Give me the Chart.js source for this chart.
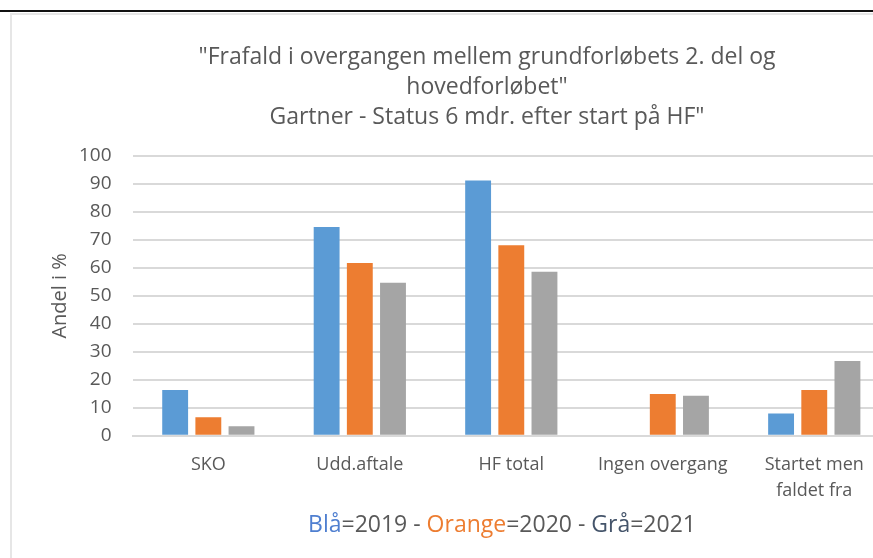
<!DOCTYPE html>
<html>
<head>
<meta charset="utf-8">
<script src="https://cdn.jsdelivr.net/npm/chart.js@4"></script>
<style>
  html, body { margin: 0; padding: 0; background: #fff; }
  #wrap { position: relative; width: 873px; height: 558px; overflow: hidden; background: #fff; }
  #topline { position: absolute; left: 0; top: 10px; width: 873px; height: 2px; background: #111; }
  #hline { position: absolute; left: 10px; top: 13px; width: 863px; height: 2px; background: #e6e6e6; }
  #vline { position: absolute; left: 10px; top: 13px; width: 2px; height: 545px; background: #e6e6e6; }
  #title { position: absolute; left: 137px; width: 700px; top: 40px; text-align: center;
           font-family: "Open Sans", sans-serif; font-size: 23px; line-height: 30px; color: #595959; }
  #legendline { position: absolute; left: 252px; width: 500px; top: 507px; text-align: center;
           font-family: "Open Sans", sans-serif; font-size: 23px; color: #595959; }
  #box { position: absolute; left: 0; top: 0; width: 890px; height: 558px; }
</style>
</head>
<body>
<div id="wrap">
  <div id="box"><canvas id="barChart"></canvas></div>
  <div id="topline"></div>
  <div id="hline"></div>
  <div id="vline"></div>
  <div id="title">"Frafald i overgangen mellem grundforløbets 2. del og<br>hovedforløbet"<br>Gartner - Status 6 mdr. efter start på HF"</div>
  <div id="legendline"><span style="color:#4f7fd0">Blå</span>=2019 - <span style="color:#ed7d31">Orange</span>=2020 - <span style="color:#44546a">Grå</span>=2021</div>
</div>
<script>
// categories and values
var categories = ['SKO', 'Udd.aftale', 'HF total', 'Ingen overgang', ['Startet men', 'faldet fra']];
var years = ['2019', '2020', '2021'];
var values2019 = [16.4, 74.6, 91.2, 0, 8.0];
var values2020 = [6.6, 61.8, 68.1, 14.9, 16.4];
var values2021 = [3.4, 54.7, 58.6, 14.3, 26.7];

var grey = '#595959';

var ctx = document.getElementById('barChart');
var barChart = new Chart(ctx, {
    type: 'bar',
    data: {
        labels: categories,
        datasets: [
            { label: years[0], data: values2019, backgroundColor: '#5b9bd5' },
            { label: years[1], data: values2020, backgroundColor: '#ed7d31' },
            { label: years[2], data: values2021, backgroundColor: '#a5a5a5' }
        ]
    },
    options: {
        responsive: true,
        maintainAspectRatio: false,
        animation: false,
        categoryPercentage: 0.657,
        barPercentage: 0.78,
        layout: { padding: { top: 156, left: 11, right: 0, bottom: 46 } },
        plugins: {
            legend: { display: false },
            tooltip: { enabled: false }
        },
        scales: {
            x: {
                grid: { display: false },
                border: { display: true, color: '#d9d9d9', width: 2 },
                ticks: { color: grey, font: { family: 'Open Sans', size: 18, lineHeight: 1.45 }, padding: 8, maxRotation: 0, autoSkip: false }
            },
            y: {
                min: 0,
                max: 100,
                ticks: { stepSize: 10, color: grey, font: { family: 'Open Sans', size: 19 }, padding: 21 },
                grid: { color: '#d9d9d9', lineWidth: 2, drawTicks: false },
                border: { display: false },
                title: { display: true, text: 'Andel i %', color: grey, font: { family: 'Open Sans', size: 20 }, padding: { top: 37, bottom: -14 } }
            }
        }
    }
});
</script>
</body>
</html>
